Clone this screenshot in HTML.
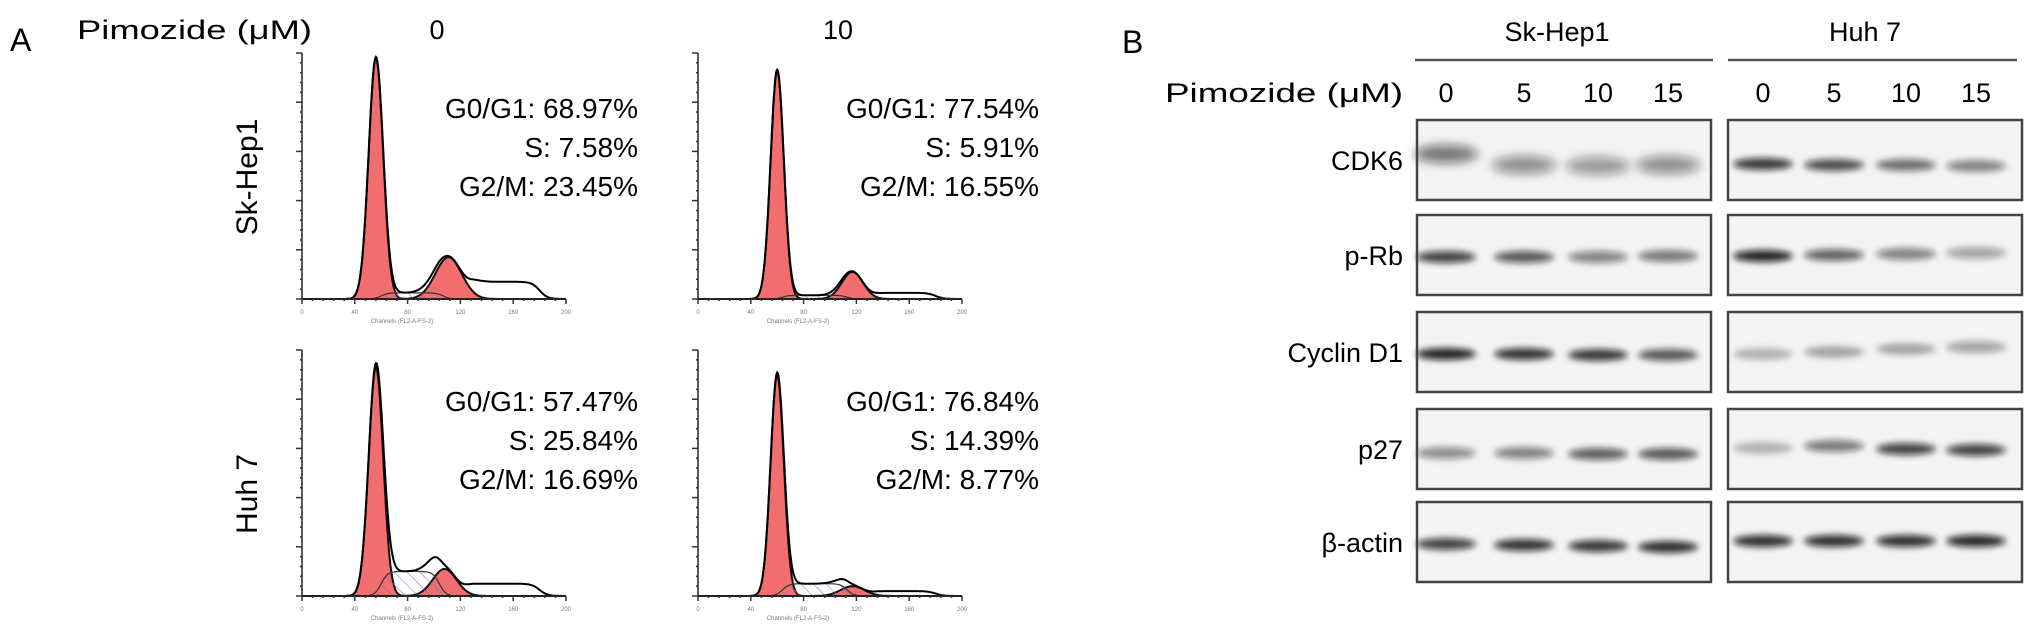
<!DOCTYPE html>
<html><head><meta charset="utf-8">
<style>
html,body{margin:0;padding:0;background:#fff;}
svg{display:block;font-family:"Liberation Sans",Arial,sans-serif;}
</style></head>
<body>
<svg id="fig" width="2031" height="634" viewBox="0 0 2031 634" xmlns="http://www.w3.org/2000/svg">
<defs>
  <filter id="blur" x="-30%" y="-100%" width="160%" height="300%"><feGaussianBlur stdDeviation="3.2"/></filter>
  <filter id="blur2" x="-30%" y="-100%" width="160%" height="300%"><feGaussianBlur stdDeviation="5"/></filter>
  <pattern id="hatchb" width="9" height="9" patternUnits="userSpaceOnUse" patternTransform="rotate(-45)">
    <line x1="0" y1="0" x2="0" y2="9" stroke="#6a72d8" stroke-width="1"/>
  </pattern>
</defs>

<text x="10" y="51" font-size="32">A</text>
<text x="77" y="39" font-size="27" textLength="235" lengthAdjust="spacingAndGlyphs">Pimozide (μM)</text>
<text x="437" y="39" font-size="27" text-anchor="middle">0</text>
<text x="838" y="39" font-size="27" text-anchor="middle">10</text>
<text transform="translate(257,177) rotate(-90)" font-size="30" text-anchor="middle">Sk-Hep1</text>
<text transform="translate(257,494) rotate(-90)" font-size="30" text-anchor="middle">Huh 7</text>

<g id="hists"></g>
<g id="stats" font-size="28" text-anchor="end"></g>

<text x="1122" y="53" font-size="32">B</text>
<text x="1557" y="41" font-size="27" text-anchor="middle">Sk-Hep1</text>
<text x="1865" y="41" font-size="27" text-anchor="middle">Huh 7</text>
<line x1="1415" y1="60" x2="1713" y2="60" stroke="#555" stroke-width="2.5"/>
<line x1="1728" y1="60" x2="2017" y2="60" stroke="#555" stroke-width="2.5"/>
<text x="1403" y="102" font-size="27" text-anchor="end" textLength="238" lengthAdjust="spacingAndGlyphs">Pimozide (μM)</text>
<g id="blots"></g>
</svg>

<script>
// ===== Panel A: flow cytometry data =====
const panelNames = ['sk-hep1-0', 'sk-hep1-10', 'huh7-0', 'huh7-10'];
const g1Channel = [56, 60, 56, 60];
const g1Height = [0.98, 0.93, 0.93, 0.90];
const g1Sigma = [5.5, 5.0, 5.5, 5.0];
const g2Channel = [111, 117, 108, 117];
const g2Height = [0.17, 0.11, 0.11, 0.04];
const g2Sigma = [10, 8, 9, 9];
const sHeight = [0.025, 0.015, 0.10, 0.05];
const tailHeight = [0.07, 0.025, 0.05, 0.02];
const g0g1Labels = ['68.97%', '77.54%', '57.47%', '76.84%'];
const sLabels = ['7.58%', '5.91%', '25.84%', '14.39%'];
const g2mLabels = ['23.45%', '16.55%', '16.69%', '8.77%'];
const xTickLabels = ['0', '40', '80', '120', '160', '200'];

const layout = [[302, 299], [698, 299], [302, 596], [698, 596]];
const AW = 264, AH = 246;
const NS = 'http://www.w3.org/2000/svg';
function mk(tag, attrs, parent) { const e = document.createElementNS(NS, tag); for (const k in attrs) e.setAttribute(k, attrs[k]); parent.appendChild(e); return e; }
function gauss(x, m, s) { return Math.exp(-0.5 * ((x - m) / s) ** 2); }
function sComp(i, c) {
  const a = g1Channel[i], b = g2Channel[i];
  const lo = 1 / (1 + Math.exp(-(c - a - 4) / 2.5)), hi = 1 / (1 + Math.exp((c - b + 4) / 2.5));
  return sHeight[i] * lo * hi;
}
function tail(i, c) { const b = g2Channel[i]; return tailHeight[i] / (1 + Math.exp(-(c - b - 16) / 3)) / (1 + Math.exp((c - 180) / 3)); }

const hists = document.getElementById('hists');
const stats = document.getElementById('stats');
for (let i = 0; i < 4; i++) {
  const [x0, y0] = layout[i];
  const xs = c => x0 + c / 200 * AW;
  const ys = v => y0 - v * AH;
  const g = mk('g', {}, hists);
  
  
  const steps = [];
  for (let c = 0; c <= 200; c += 0.5) steps.push(c);
  function areaPath(fn) {
    let d = 'M' + xs(0) + ',' + y0;
    steps.forEach(c => { d += ' L' + xs(c).toFixed(1) + ',' + ys(fn(c)).toFixed(1); });
    return d + ' L' + xs(200) + ',' + y0 + ' Z';
  }
  const g1f = c => g1Height[i] * gauss(c, g1Channel[i], g1Sigma[i]);
  const g2f = c => g2Height[i] * gauss(c, g2Channel[i], g2Sigma[i]);
  const sf = c => sComp(i, c);
  const tot = c => g1f(c) + g2f(c) + sf(c) + tail(i, c);
  const p1 = mk('path', { d: areaPath(g1f), fill: '#f26d6d', stroke: '#111', 'stroke-width': 2 }, g);
  
  
  const p2 = mk('path', { d: areaPath(g2f), fill: '#f26d6d', stroke: '#111', 'stroke-width': 2 }, g);
  
  
  const ps = mk('path', { d: areaPath(sf), fill: 'url(#hatchb)', stroke: '#333', 'stroke-width': 1.2 }, g);
  
  
  let d = '';
  steps.forEach((c, k) => { d += (k ? ' L' : 'M') + xs(c).toFixed(1) + ',' + ys(tot(c)).toFixed(1); });
  const po = mk('path', { d: d, fill: 'none', stroke: '#000', 'stroke-width': 2 }, g);
  
  
  const ya = mk('line', { x1: x0, y1: y0, x2: x0, y2: y0 - AH, stroke: '#222', 'stroke-width': 1.5 }, g);
  
  
  const xa = mk('line', { x1: x0, y1: y0, x2: x0 + AW, y2: y0, stroke: '#222', 'stroke-width': 2 }, g);
  
  
  for (let k = 0; k <= 25; k++) {
    const yy = y0 - k * AH / 25;
    mk('line', { x1: x0 - (k % 5 ? 2 : 6), y1: yy, x2: x0, y2: yy, stroke: '#333', 'stroke-width': 1.5 }, g);
  }
  for (let k = 0; k <= 25; k++) {
    const xx = x0 + k * AW / 25;
    mk('line', { x1: xx, y1: y0, x2: xx, y2: y0 + (k % 5 ? 2 : 5), stroke: '#333', 'stroke-width': 1.5 }, g);
  }
  xTickLabels.forEach((t, k) => {
    const tl = mk('text', { x: xs(k * 40), y: y0 + 15, 'font-size': 6, fill: '#777', 'text-anchor': 'middle' }, g);
    tl.textContent = t;
    
    
  });
  const xt = mk('text', { x: x0 + 100, y: y0 + 24, 'font-size': 6, fill: '#777', 'text-anchor': 'middle' }, g);
  xt.textContent = 'Channels (FL2-A-FS-2)';
  
  

  const right = x0 + (i % 2 ? 341 : 336);
  const top = i < 2 ? 118 : 411;
  const rows = [['G0/G1: ', g0g1Labels[i], 'g0g1'], ['S: ', sLabels[i], 's'], ['G2/M: ', g2mLabels[i], 'g2m']];
  rows.forEach((r, k) => {
    const t = mk('text', { x: right, y: top + k * 39 }, stats);
    t.textContent = r[0] + r[1];
    
    
  });
}

// ===== Panel B: western blots =====
const proteins = ['CDK6', 'p-Rb', 'Cyclin D1', 'p27', 'β-actin'];
const doses = ['0', '5', '10', '15'];
const skIntensity = [[0.62, 0.5, 0.45, 0.5], [0.85, 0.75, 0.55, 0.6], [1.0, 0.92, 0.9, 0.75], [0.5, 0.55, 0.72, 0.75], [0.85, 0.92, 0.9, 0.95]];
const huhIntensity = [[0.9, 0.8, 0.65, 0.55], [1.0, 0.7, 0.55, 0.4], [0.3, 0.35, 0.35, 0.4], [0.3, 0.6, 0.85, 0.85], [0.95, 0.95, 0.95, 0.98]];
const skBandY = [[154, 165, 166, 165], [257, 257, 257, 256], [354, 354, 355, 355], [453, 453, 454, 454], [544, 545, 546, 547]];
const huhBandY = [[164, 165, 165, 166], [256, 255, 254, 253], [354, 352, 349, 347], [448, 446, 449, 450], [541, 541, 541, 541]];

const boxTops = [120, 215, 312, 409, 502];
const boxH = 80;
const cellBoxes = [[1417, 1711], [1728, 2022]];
const skLaneX = [1446, 1524, 1598, 1668];
const huhLaneX = [1763, 1834, 1906, 1976];
const blots = document.getElementById('blots');

doses.forEach((dv, k) => {
  [skLaneX, huhLaneX].forEach((lx, c) => {
    const t = mk('text', { x: lx[k], y: 102, 'font-size': 27, 'text-anchor': 'middle' }, blots);
    t.textContent = dv;
    
    
  });
});

proteins.forEach((p, r) => {
  const lab = mk('text', { x: 1403, y: boxTops[r] + boxH / 2 + 10, 'font-size': 27, 'text-anchor': 'end' }, blots);
  lab.textContent = p;
  
  
  [[skLaneX, skIntensity, skBandY], [huhLaneX, huhIntensity, huhBandY]].forEach((set, c) => {
    const [lx, inten, by] = set;
    const g = mk('g', {}, blots);
    
    
    const [bx0, bx1] = cellBoxes[c];
    mk('rect', { x: bx0, y: boxTops[r], width: bx1 - bx0, height: boxH, fill: '#f4f4f4' }, g);
    const diffuse = (r === 0 && c === 0);
    doses.forEach((dv, k) => {
      const v = inten[r][k];
      const band = mk('ellipse', { cx: lx[k], cy: by[r][k], rx: diffuse ? 32 : 30, ry: diffuse ? 9 : 6, fill: '#111', 'fill-opacity': (v * 0.9).toFixed(2), filter: diffuse ? 'url(#blur2)' : 'url(#blur)' }, g);
      
      
    });
    mk('rect', { x: bx0, y: boxTops[r], width: bx1 - bx0, height: boxH, fill: 'none', stroke: '#444', 'stroke-width': 2.5 }, g);
  });
});
</script>
</body></html>
